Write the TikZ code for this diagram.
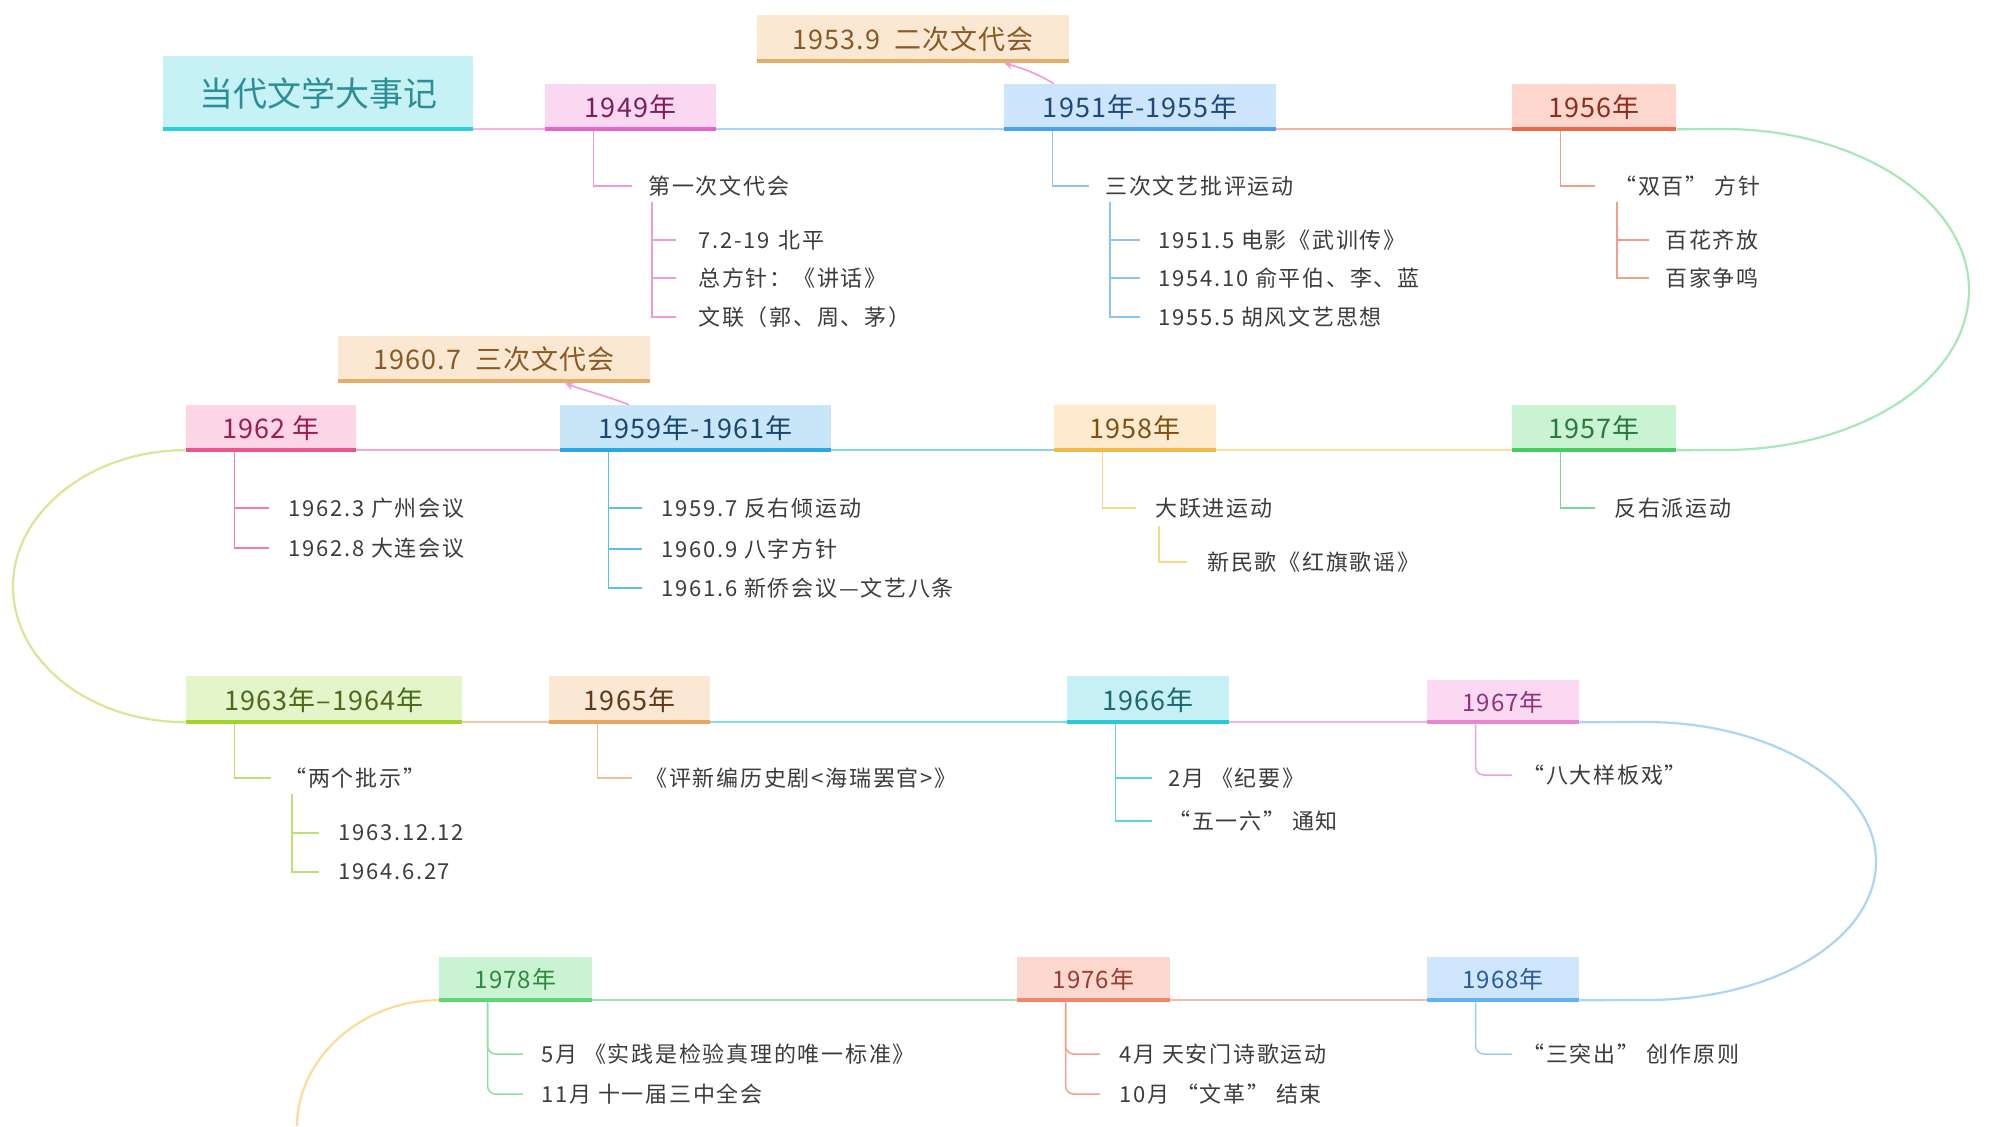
\documentclass[tikz,border=0pt]{standalone}
\usepackage{fontspec}
\setmainfont{Noto Sans CJK SC}[LetterSpace=4]
\newfontfamily\titlefont{Noto Sans CJK SC}
\newfontfamily\childfont{Noto Sans CJK SC}[LetterSpace=8]
\usetikzlibrary{arrows.meta}
\definecolor{txt}{HTML}{3C3C3C}
% title
\definecolor{tFill}{HTML}{C6F1F5}\definecolor{tBar}{HTML}{2CCFD8}\definecolor{tTxt}{HTML}{2C8F96}
% boxes
\definecolor{aFill}{HTML}{FAD8F1}\definecolor{aBar}{HTML}{E466C4}\definecolor{aTxt}{HTML}{7A1F5C}
\definecolor{bFill}{HTML}{CCE5FC}\definecolor{bBar}{HTML}{4AA3EC}\definecolor{bTxt}{HTML}{1D4A78}
\definecolor{cFill}{HTML}{FDD6CD}\definecolor{cBar}{HTML}{E8694B}\definecolor{cTxt}{HTML}{8C2E1C}
\definecolor{eFill}{HTML}{FBE8D2}\definecolor{eBar}{HTML}{E5AC66}\definecolor{eTxt}{HTML}{8A5A24}
\definecolor{gFill}{HTML}{CAF3D3}\definecolor{gBar}{HTML}{45CC65}\definecolor{gTxt}{HTML}{2A7A3C}
\definecolor{oFill}{HTML}{FEEACF}\definecolor{oBar}{HTML}{F2B848}\definecolor{oTxt}{HTML}{7D5212}
\definecolor{sFill}{HTML}{C9E6F9}\definecolor{sBar}{HTML}{2BA6E0}\definecolor{sTxt}{HTML}{1A4670}
\definecolor{pFill}{HTML}{FCD5E6}\definecolor{pBar}{HTML}{E8568E}\definecolor{pTxt}{HTML}{9A1F4C}
\definecolor{yFill}{HTML}{E3F5C9}\definecolor{yBar}{HTML}{A3D22C}\definecolor{yTxt}{HTML}{4B6A1C}
\definecolor{hFill}{HTML}{FBE8D4}\definecolor{hBar}{HTML}{E3A763}\definecolor{hTxt}{HTML}{5E3A1A}
\definecolor{kFill}{HTML}{C6F0F4}\definecolor{kBar}{HTML}{2CC9D3}\definecolor{kTxt}{HTML}{1D6870}
\definecolor{mFill}{HTML}{FBD9F2}\definecolor{mBar}{HTML}{E787CF}\definecolor{mTxt}{HTML}{93307C}
\definecolor{lFill}{HTML}{D0E6FC}\definecolor{lBar}{HTML}{62B3F1}\definecolor{lTxt}{HTML}{2B5C98}
\definecolor{rFill}{HTML}{FDD8D1}\definecolor{rBar}{HTML}{F2866A}\definecolor{rTxt}{HTML}{9A3D2C}
\definecolor{vFill}{HTML}{CAF3D3}\definecolor{vBar}{HTML}{5FD676}\definecolor{vTxt}{HTML}{2C8A3E}
% lines
\definecolor{La}{HTML}{F5B3E0}\definecolor{Lb}{HTML}{A9D4F6}\definecolor{Lc}{HTML}{F2B4A4}
\definecolor{Lg}{HTML}{A8E8B6}\definecolor{Lo}{HTML}{FBE0A0}\definecolor{Ls}{HTML}{8FD0EE}
\definecolor{Lp}{HTML}{F3A9C6}\definecolor{Ly}{HTML}{D2EA95}\definecolor{Lh}{HTML}{EFCCA4}
\definecolor{Lk}{HTML}{7EDDE3}\definecolor{Lm}{HTML}{F1B4E2}\definecolor{Ll}{HTML}{A9D6F6}
\definecolor{Lr}{HTML}{F7B9A8}\definecolor{Lv}{HTML}{9FE6AE}\definecolor{Lz}{HTML}{FCDC96}
% branch colours
\definecolor{Ba}{HTML}{EE9AD6}\definecolor{Bb}{HTML}{8CC6F0}\definecolor{Bc}{HTML}{EEA08C}
\definecolor{Bg}{HTML}{7AD890}\definecolor{Bo}{HTML}{F8D88A}\definecolor{Bs}{HTML}{5CC0E6}
\definecolor{Bp}{HTML}{EE80AA}\definecolor{By}{HTML}{BDE070}\definecolor{Bh}{HTML}{ECC090}
\definecolor{Bk}{HTML}{5CD6DC}\definecolor{Bm}{HTML}{ECA0DC}\definecolor{Bl}{HTML}{9CCFF6}
\definecolor{Br}{HTML}{F2A08A}\definecolor{Bv}{HTML}{8FE0A0}
\definecolor{arrowpink}{HTML}{F09AD8}
\newcommand\yfont{\fontsize{13.5}{16}\selectfont}
\newcommand\ysfont{\fontsize{12}{14}\selectfont}
\newcommand\cfont{\childfont\fontsize{11}{13}\selectfont}
\newcommand\YBox[8]{%
  \pgfmathsetmacro\boxw{(#4-#2)*0.5}%
  \pgfmathsetmacro\boxh{(#5-#3)*0.5}%
  \node[inner sep=0pt, font=\yfont, minimum width=\boxw pt, minimum height=\boxh pt, #6]
     (#1) at ({(#2+#4)/2},{(#3+#5)/2}) {#8};
  \draw[barline, #7] ([yshift=1.1pt]#1.south west) -- ([yshift=1.1pt]#1.south east);}
\tikzset{
  ctext/.style={anchor=west, inner sep=0pt, font=\cfont, text=txt},
  mline/.style={line width=1.1pt},
  bline/.style={line width=0.75pt},
  barline/.style={line width=2.2pt},
  pinkarrow/.style={arrowpink, line width=0.8pt, -{Stealth[length=4pt,width=4pt]}},
  smallyear/.style={font=\ysfont},
}
\begin{document}
\begin{tikzpicture}[x=0.5pt, y=-0.5pt]
\useasboundingbox (0,0) rectangle (2001,1126);
\fill[white] (0,0) rectangle (2001,1126);

% ---------- boxes ----------
\YBox{title}{163}{56}{473}{131}{fill=tFill,text=tTxt,font=\titlefont\fontsize{17}{20}\selectfont}{tBar}{当代文学大事记}
\YBox{y1949}{545}{84}{716}{131}{fill=aFill,text=aTxt}{aBar}{1949年}
\YBox{y1951}{1004}{84}{1276}{131}{fill=bFill,text=bTxt}{bBar}{1951年-1955年}
\YBox{y1956}{1512}{84}{1676}{131}{fill=cFill,text=cTxt}{cBar}{1956年}
\YBox{n1953}{757}{15}{1069}{63}{fill=eFill,text=eTxt}{eBar}{1953.9\hspace{0.5em}二次文代会}
\YBox{y1957}{1512}{405}{1676}{452}{fill=gFill,text=gTxt}{gBar}{1957年}
\YBox{y1958}{1054}{405}{1216}{452}{fill=oFill,text=oTxt}{oBar}{1958年}
\YBox{y1959}{560}{405}{831}{452}{fill=sFill,text=sTxt}{sBar}{1959年-1961年}
\YBox{y1962}{186}{405}{356}{452}{fill=pFill,text=pTxt}{pBar}{1962 年}
\YBox{n1960}{338}{336}{650}{383}{fill=eFill,text=eTxt}{eBar}{1960.7\hspace{0.5em}三次文代会}
\YBox{y1963}{186}{676}{462}{724}{fill=yFill,text=yTxt}{yBar}{1963年–1964年}
\YBox{y1965}{549}{676}{710}{724}{fill=hFill,text=hTxt}{hBar}{1965年}
\YBox{y1966}{1067}{676}{1229}{724}{fill=kFill,text=kTxt}{kBar}{1966年}
\YBox{y1967}{1427}{680}{1579}{724}{fill=mFill,text=mTxt,smallyear}{mBar}{1967年}
\YBox{y1968}{1427}{957}{1579}{1002}{fill=lFill,text=lTxt,smallyear}{lBar}{1968年}
\YBox{y1976}{1017}{957}{1170}{1002}{fill=rFill,text=rTxt,smallyear}{rBar}{1976年}
\YBox{y1978}{439}{957}{592}{1002}{fill=vFill,text=vTxt,smallyear}{vBar}{1978年}

% ---------- main line ----------
\draw[mline,La] ([yshift=1.1pt]title.south east) -- ([yshift=1.1pt]y1949.south west);
\draw[mline,Lb] ([yshift=1.1pt]y1949.south east) -- ([yshift=1.1pt]y1951.south west);
\draw[mline,Lc] ([yshift=1.1pt]y1951.south east) -- ([yshift=1.1pt]y1956.south west);
\draw[mline,Lg] ([yshift=1.1pt]y1956.south east) -- (1723,129)
   .. controls (1859,129) and (1969,202) .. (1969,290)
   .. controls (1969,380) and (1859,450) .. (1723,450) -- ([yshift=1.1pt]y1957.south east);
\draw[mline,Lo] ([yshift=1.1pt]y1957.south west) -- ([yshift=1.1pt]y1958.south east);
\draw[mline,Ls] ([yshift=1.1pt]y1958.south west) -- ([yshift=1.1pt]y1959.south east);
\draw[mline,Lp] ([yshift=1.1pt]y1959.south west) -- ([yshift=1.1pt]y1962.south east);
\draw[mline,Ly] ([yshift=1.1pt]y1962.south west)
   .. controls (90,450) and (13,513) .. (13,586)
   .. controls (13,662) and (90,722) .. ([yshift=1.1pt]y1963.south west);
\draw[mline,Lh] ([yshift=1.1pt]y1963.south east) -- ([yshift=1.1pt]y1965.south west);
\draw[mline,Lk] ([yshift=1.1pt]y1965.south east) -- ([yshift=1.1pt]y1966.south west);
\draw[mline,Lm] ([yshift=1.1pt]y1966.south east) -- ([yshift=1.1pt]y1967.south west);
\draw[mline,Ll] ([yshift=1.1pt]y1967.south east) -- (1646,722)
   .. controls (1773,722) and (1876,786) .. (1876,861)
   .. controls (1876,940) and (1773,1000) .. (1646,1000) -- ([yshift=1.1pt]y1968.south east);
\draw[mline,Lr] ([yshift=1.1pt]y1968.south west) -- ([yshift=1.1pt]y1976.south east);
\draw[mline,Lv] ([yshift=1.1pt]y1976.south west) -- ([yshift=1.1pt]y1978.south east);
\draw[mline,Lz] ([yshift=1.1pt]y1978.south west)
   .. controls (360,1000) and (297,1060) .. (297,1126);

% ---------- arrows to congress boxes ----------
\draw[pinkarrow] ([xshift=25pt]y1951.north west)
   .. controls +(-8pt,5pt) and +(8pt,-2pt) .. ([xshift=-32.5pt]n1953.south east);
\draw[pinkarrow] ([xshift=34.5pt]y1959.north west)
   .. controls +(-10pt,4pt) and +(8pt,-3pt) .. ([xshift=-42.5pt]n1960.south east);

% ---------- row 1 children ----------
\node[ctext] (c49) at (648,186) {第一次文代会};
\node[ctext] (c49a) at (698,240) {7.2-19\hspace{0.4em}北平};
\node[ctext] (c49b) at (698,278) {总方针：《讲话》};
\node[ctext] (c49c) at (698,317) {文联（郭、周、茅）};
\draw[bline,Ba] ([xshift=24.5pt]y1949.south west) |- ([xshift=-8pt]c49.west);
\foreach \k in {c49a,c49b,c49c}
  \draw[bline,Ba] ([xshift=2pt,yshift=-2.5pt]c49.south west) |- ([xshift=-11pt]\k.west);

\node[ctext] (c51) at (1105,186) {三次文艺批评运动};
\node[ctext] (c51a) at (1158,240) {1951.5 电影《武训传》};
\node[ctext] (c51b) at (1158,278) {1954.10 俞平伯、李、蓝};
\node[ctext] (c51c) at (1158,317) {1955.5 胡风文艺思想};
\draw[bline,Bb] ([xshift=24.5pt]y1951.south west) |- ([xshift=-8pt]c51.west);
\foreach \k in {c51a,c51b,c51c}
  \draw[bline,Bb] ([xshift=2.5pt,yshift=-2.5pt]c51.south west) |- ([xshift=-9pt]\k.west);

\node[ctext] (c56) at (1614,186) {“双百” 方针};
\node[ctext] (c56a) at (1665,240) {百花齐放};
\node[ctext] (c56b) at (1665,278) {百家争鸣};
\draw[bline,Bc] ([xshift=24.5pt]y1956.south west) |- ([xshift=-9.5pt]c56.west);
\foreach \k in {c56a,c56b}
  \draw[bline,Bc] ([xshift=1.5pt,yshift=-2.5pt]c56.south west) |- ([xshift=-8pt]\k.west);

% ---------- row 2 children ----------
\node[ctext] (c57) at (1614,508) {反右派运动};
\draw[bline,Bg] ([xshift=24.5pt]y1957.south west) |- ([xshift=-9.5pt]c57.west);

\node[ctext] (c58) at (1155,508) {大跃进运动};
\node[ctext] (c58a) at (1207,562) {新民歌《红旗歌谣》};
\draw[bline,Bo] ([xshift=24.5pt]y1958.south west) |- ([xshift=-9.5pt]c58.west);
\draw[bline,Bo] ([xshift=2pt,yshift=-3.5pt]c58.south west) |- ([xshift=-10pt]c58a.west);

\node[ctext] (c59a) at (661,508) {1959.7 反右倾运动};
\node[ctext] (c59b) at (661,549) {1960.9 八字方针};
\node[ctext] (c59c) at (661,588) {1961.6 新侨会议—文艺八条};
\foreach \k in {c59a,c59b,c59c}
  \draw[bline,Bs] ([xshift=24.5pt]y1959.south west) |- ([xshift=-9.5pt]\k.west);

\node[ctext] (c62a) at (288,508) {1962.3 广州会议};
\node[ctext] (c62b) at (288,548) {1962.8 大连会议};
\foreach \k in {c62a,c62b}
  \draw[bline,Bp] ([xshift=24.5pt]y1962.south west) |- ([xshift=-9.5pt]\k.west);

% ---------- row 3 children ----------
\node[ctext] (c63) at (284,778) {“两个批示”};
\node[ctext] (c63a) at (338,833) {1963.12.12};
\node[ctext] (c63b) at (338,872) {1964.6.27};
\draw[bline,By] ([xshift=24.5pt]y1963.south west) |- ([xshift=-6.5pt]c63.west);
\foreach \k in {c63a,c63b}
  \draw[bline,By] ([xshift=4pt,yshift=-2.5pt]c63.south west) |- ([xshift=-9.5pt]\k.west);

\node[ctext] (c65) at (645,778) {《评新编历史剧<海瑞罢官>》};
\draw[bline,Bh] ([xshift=24.5pt]y1965.south west) |- ([xshift=-6.5pt]c65.west);

\node[ctext] (c66a) at (1168,778) {2月 《纪要》};
\node[ctext] (c66b) at (1168,821) {“五一六” 通知};
\foreach \k in {c66a,c66b}
  \draw[bline,Bk] ([xshift=24.5pt]y1966.south west) |- ([xshift=-8pt]\k.west);

\node[ctext] (c67) at (1522,775) {“八大样板戏”};
\draw[bline,Bm,rounded corners=4pt] ([xshift=24.5pt]y1967.south west) |- ([xshift=-5pt]c67.west);

% ---------- row 4 children ----------
\node[ctext] (c68) at (1522,1054) {“三突出” 创作原则};
\draw[bline,Bl,rounded corners=4pt] ([xshift=24.5pt]y1968.south west) |- ([xshift=-5pt]c68.west);

\node[ctext] (c76a) at (1119,1054) {4月 天安门诗歌运动};
\node[ctext] (c76b) at (1119,1094) {10月 “文革” 结束};
\foreach \k in {c76a,c76b}
  \draw[bline,Br,rounded corners=4pt] ([xshift=24.5pt]y1976.south west) |- ([xshift=-9.5pt]\k.west);

\node[ctext] (c78a) at (541,1054) {5月 《实践是检验真理的唯一标准》};
\node[ctext] (c78b) at (541,1094) {11月 十一届三中全会};
\foreach \k in {c78a,c78b}
  \draw[bline,Bv,rounded corners=4pt] ([xshift=24.5pt]y1978.south west) |- ([xshift=-9pt]\k.west);
\end{tikzpicture}
\end{document}
